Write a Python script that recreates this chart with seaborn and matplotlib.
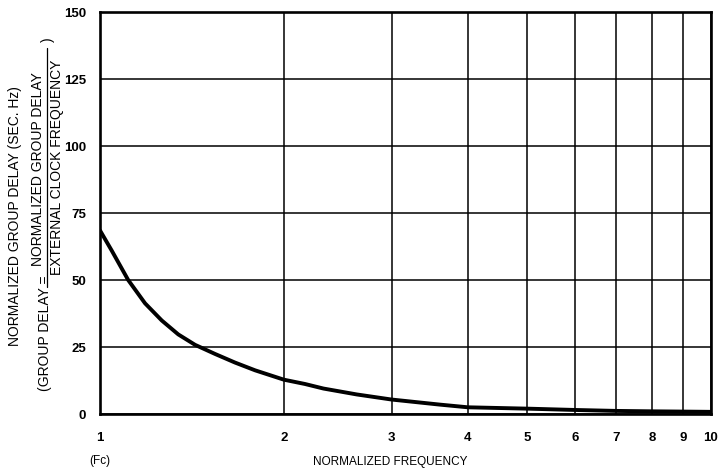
import matplotlib
matplotlib.use("Agg")
import matplotlib.pyplot as plt
import seaborn as sns
import pandas as pd
from matplotlib.lines import Line2D

# Normalized group delay vs normalized frequency
freq = [1.0, 1.045, 1.112, 1.185, 1.262, 1.343, 1.431, 1.543, 1.663, 1.794,
        2.0, 2.165, 2.321, 2.631, 3.0, 3.6, 4.0, 5.0, 6.0, 7.0, 8.0, 9.0, 10.0]
delay = [68.5, 61.0, 50.0, 41.3, 34.9, 29.7, 25.8, 22.4, 19.2, 16.3,
         12.8, 11.2, 9.5, 7.3, 5.4, 3.5, 2.5, 2.0, 1.5, 1.15, 1.0, 0.9, 0.8]

x_ticks = [1, 2, 3, 4, 5, 6, 7, 8, 9, 10]
x_tick_labels = ["1", "2", "3", "4", "5", "6", "7", "8", "9", "10"]
y_ticks = [0, 25, 50, 75, 100, 125, 150]
y_tick_labels = ["0", "25", "50", "75", "100", "125", "150"]

sns.set_theme(style="white")
plt.rcParams["font.family"] = ["Liberation Sans", "DejaVu Sans"]
plt.rcParams["text.color"] = "black"
plt.rcParams["xtick.color"] = "black"
plt.rcParams["ytick.color"] = "black"

W, H = 720, 473
fig = plt.figure(figsize=(W / 100, H / 100), dpi=100)
ax = fig.add_axes([100 / W, 1 - 414 / H, 611 / W, 402 / H])

df = pd.DataFrame({"freq": freq, "delay": delay})
sns.lineplot(data=df, x="freq", y="delay", ax=ax, color="black", linewidth=2.8,
             solid_capstyle="round", solid_joinstyle="round", zorder=5)

ax.set_xscale("log")
ax.set_xlim(1, 10)
ax.set_ylim(0, 150)
ax.set_xticks(x_ticks)
ax.set_xticklabels(x_tick_labels)
ax.minorticks_off()
ax.set_yticks(y_ticks)
ax.set_yticklabels(y_tick_labels)
ax.set_xlabel("")
ax.set_ylabel("")

ax.grid(True, which="major", color="black", linewidth=1.1)
for s in ax.spines.values():
    s.set_visible(True)
    s.set_color("black")
    s.set_linewidth(1.9)

ax.tick_params(axis="x", direction="out", length=3, width=1.1, color="black",
               pad=10, labelsize=9.5, labelcolor="black")
ax.tick_params(axis="y", length=0, pad=10, labelsize=9.5, labelcolor="black")
for lab in ax.get_xticklabels() + ax.get_yticklabels():
    lab.set_fontweight("bold")


def fy(py):
    return 1 - py / H


def fx(px):
    return px / W


# x-axis captions
fig.text(fx(100), fy(461), "(Fc)", ha="center", va="center", fontsize=8.5)
fig.text(fx(390), fy(462), "NORMALIZED FREQUENCY", ha="center", va="center", fontsize=8.5)

# y-axis caption, first line
fig.text(fx(15), fy(216), "NORMALIZED GROUP DELAY (SEC. Hz)", rotation=90,
         ha="center", va="center", fontsize=10)

# y-axis caption, second line with the fraction
fig.text(fx(45.5), fy(391), "(GROUP DELAY =", rotation=90,
         ha="center", va="bottom", fontsize=10)
fig.text(fx(38.5), fy(169), "NORMALIZED GROUP DELAY", rotation=90,
         ha="center", va="center", fontsize=10)
fig.text(fx(57.5), fy(167), "EXTERNAL CLOCK FREQUENCY", rotation=90,
         ha="center", va="center", fontsize=10)
fig.add_artist(Line2D([fx(46.5), fx(46.5)], [fy(287), fy(48)], color="black",
                      linewidth=0.9, transform=fig.transFigure))
fig.text(fx(48), fy(40), ")", rotation=90, ha="center", va="center", fontsize=10)

fig.savefig("out.png", dpi=100, facecolor="white")
